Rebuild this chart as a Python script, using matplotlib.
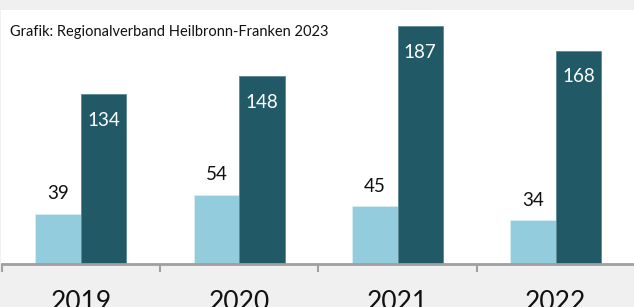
import matplotlib
matplotlib.use('Agg')
import matplotlib.pyplot as plt
import numpy as np

# Data
years = ["2019", "2020", "2021", "2022"]
light_values = [39, 54, 45, 34]
dark_values = [134, 148, 187, 168]
source = "Grafik: Regionalverband Heilbronn-Franken 2023"

light_color = "#93cddd"
dark_color = "#215967"
bg_color = "#f0f0f0"
axis_color = "#a0a0a0"

plt.rcParams['font.family'] = ['Lato', 'DejaVu Sans']

W, H = 634, 307
fig = plt.figure(figsize=(W / 100, H / 100), dpi=100)
fig.patch.set_facecolor(bg_color)

# White panel behind the plot
fig.patches.append(plt.Rectangle((1 / W, 44 / H), 1, 253 / H,
                                 transform=fig.transFigure, facecolor="white",
                                 edgecolor="none", zorder=-5))

ax = fig.add_axes([1.7 / W, 43.5 / H, 633.3 / W, 253.5 / H])
ax.set_facecolor("none")

x = np.arange(len(years))
bw = 0.288
ax.bar(x - bw / 2, light_values, bw, color=light_color, edgecolor="#d8eef4", linewidth=0.6, zorder=2)
ax.bar(x + bw / 2, dark_values, bw, color=dark_color, edgecolor="#5b8894", linewidth=0.6, zorder=2)

for i in range(len(years)):
    ax.annotate(str(light_values[i]), (x[i] - bw / 2, light_values[i]),
                xytext=(0, 14.5), textcoords="offset points", ha="center", va="center",
                fontsize=13.5, color="#111111")
    ax.annotate(str(dark_values[i]), (x[i] + bw / 2, dark_values[i]),
                xytext=(0, -19), textcoords="offset points", ha="center", va="center",
                fontsize=13.5, color="white")

ax.set_xlim(-0.5, len(years) - 0.5)
ax.set_ylim(0, 200)
ax.set_yticks([])
for s in ["left", "right", "top"]:
    ax.spines[s].set_visible(False)
ax.spines["bottom"].set_color(axis_color)
ax.spines["bottom"].set_linewidth(2)

ax.set_xticks(x)
ax.set_xticklabels(years, fontsize=19, color="#111111")
ax.tick_params(axis="x", which="major", length=0, pad=19)
ax.set_xticks(np.arange(len(years) + 1) - 0.5, minor=True)
ax.tick_params(axis="x", which="minor", length=6, width=1.5, color=axis_color)

fig.text(10 / W, 1 - 32 / H, source, fontsize=10.5, va="center", ha="left", color="#111111")

fig.savefig("out.png", dpi=100, facecolor=fig.get_facecolor())
